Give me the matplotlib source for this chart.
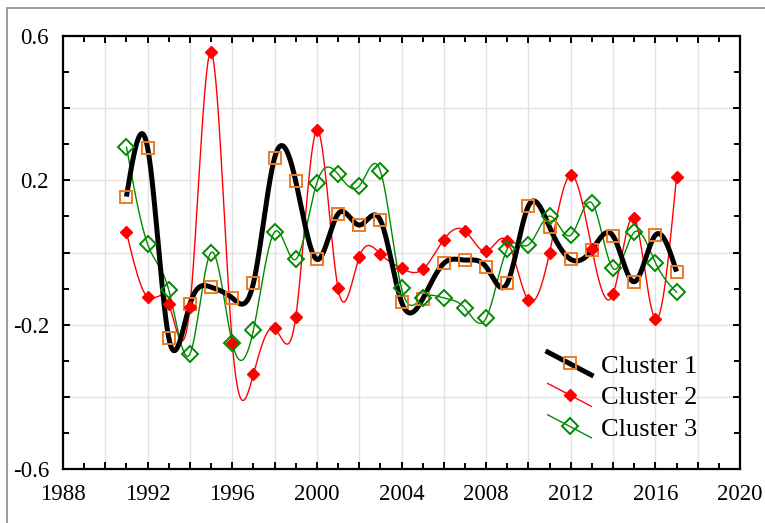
import numpy as np
import matplotlib
matplotlib.use("Agg")
import matplotlib.pyplot as plt
from matplotlib.lines import Line2D
from matplotlib.legend_handler import HandlerLine2D
from matplotlib.patches import Rectangle
from matplotlib.ticker import MultipleLocator, FuncFormatter

plt.rcParams['font.family'] = ['Liberation Serif', 'DejaVu Serif']
plt.rcParams['axes.unicode_minus'] = False

# -------------------------------
# Values
# -------------------------------
years = list(range(1991, 2018))

cluster1 = [0.155, 0.290, -0.237, -0.143, -0.096, -0.126, -0.085, 0.262, 0.198,
            -0.019, 0.107, 0.076, 0.090, -0.137, -0.129, -0.030, -0.021, -0.040,
            -0.085, 0.129, 0.070, -0.019, 0.007, 0.046, -0.081, 0.048, -0.053]

cluster2 = [0.056, -0.124, -0.143, -0.150, 0.555, -0.250, -0.337, -0.210, -0.180,
            0.339, -0.099, -0.013, -0.004, -0.044, -0.047, 0.036, 0.060, 0.003,
            0.031, -0.132, 0.000, 0.215, 0.009, -0.115, 0.095, -0.184, 0.210]

cluster3 = [0.292, 0.023, -0.104, -0.281, 0.000, -0.250, -0.215, 0.057, -0.019,
            0.193, 0.217, 0.184, 0.226, -0.099, -0.126, -0.126, -0.154, -0.182,
            0.010, 0.021, 0.101, 0.048, 0.137, -0.044, 0.056, -0.028, -0.110]

labels = ["Cluster 1", "Cluster 2", "Cluster 3"]

orange = "#ee7b22"
red = "#ff0000"
green = "#008a00"


# natural cubic spline, the lines in the reference pass through the points
def spline(x, y, n=800):
    x = np.asarray(x, float)
    y = np.asarray(y, float)
    h = np.diff(x)
    k = len(x)
    A = np.zeros((k, k))
    b = np.zeros(k)
    A[0, 0] = A[-1, -1] = 1
    for i in range(1, k - 1):
        A[i, i - 1] = h[i - 1]
        A[i, i] = 2 * (h[i - 1] + h[i])
        A[i, i + 1] = h[i]
        b[i] = 6 * ((y[i + 1] - y[i]) / h[i] - (y[i] - y[i - 1]) / h[i - 1])
    M = np.linalg.solve(A, b)
    xs = np.linspace(x[0], x[-1], n)
    idx = np.clip(np.searchsorted(x, xs) - 1, 0, k - 2)
    hi = h[idx]
    a = (x[idx + 1] - xs) / hi
    c = (xs - x[idx]) / hi
    ys = (a * y[idx] + c * y[idx + 1]
          + ((a ** 3 - a) * M[idx] + (c ** 3 - c) * M[idx + 1]) * hi ** 2 / 6)
    return xs, ys


# legend samples are drawn as diagonal strokes with the marker in the middle
class DiagonalHandler(HandlerLine2D):
    def create_artists(self, legend, orig_handle, xdescent, ydescent,
                       width, height, fontsize, trans):
        x0 = -xdescent
        x1 = -xdescent + width
        yc = -ydescent + height / 2
        dy = height * 0.62
        line = Line2D([x0, x1], [yc + dy, yc - dy])
        self.update_prop(line, orig_handle, legend)
        line.set_marker('None')
        mark = Line2D([(x0 + x1) / 2], [yc])
        self.update_prop(mark, orig_handle, legend)
        mark.set_linestyle('None')
        line.set_transform(trans)
        mark.set_transform(trans)
        return [line, mark]


fig = plt.figure(figsize=(7.65, 5.23), dpi=100)
ax = fig.add_axes([63 / 765, 1 - 469 / 523, 677 / 765, 433 / 523])

# grey frame round the figure
fig.patches.append(Rectangle((7 / 765, -0.5), 2, 1.5 - 8 / 523,
                             transform=fig.transFigure, fill=False,
                             edgecolor="#8c8c8c", linewidth=1.2))

xs, ys = spline(years, cluster2)
ax.plot(xs, ys, color=red, lw=1.0, zorder=3)
xs, ys = spline(years, cluster3)
ax.plot(xs, ys, color=green, lw=1.0, zorder=3)
xs, ys = spline(years, cluster1)
ax.plot(xs, ys, color="black", lw=3.6, zorder=4, solid_capstyle='butt')

ax.plot(years, cluster1, ls='none', marker='s', ms=8, mfc='none', mec=orange,
        mew=1.4, zorder=5)
ax.plot(years, cluster2, ls='none', marker='D', ms=6.5, mfc=red, mec=red,
        zorder=5)
ax.plot(years, cluster3, ls='none', marker='D', ms=8.5, mfc='none', mec=green,
        mew=1.4, zorder=5)

ax.set_xlim(1988, 2020)
ax.set_ylim(-0.6, 0.6)

ax.xaxis.set_major_locator(MultipleLocator(2))
ax.xaxis.set_minor_locator(MultipleLocator(1))
ax.yaxis.set_major_locator(MultipleLocator(0.2))
ax.yaxis.set_minor_locator(MultipleLocator(0.1))
ax.xaxis.set_major_formatter(FuncFormatter(
    lambda v, p: f"{v:.0f}" if round(v) % 4 == 0 else ""))
ax.yaxis.set_major_formatter(FuncFormatter(
    lambda v, p: f"{v:.1f}" if abs(round((v + 0.6) / 0.4) - (v + 0.6) / 0.4) < 1e-6 else ""))

ax.grid(True, which='major', color="#e3e3e3", lw=1.0, zorder=0)
ax.set_axisbelow(True)
ax.tick_params(which='both', direction='in', top=True, right=True,
               width=1.4, labelsize=16.5, colors='black')
ax.tick_params(which='major', length=5)
ax.tick_params(which='minor', length=4)
ax.tick_params(axis='x', pad=11)
ax.tick_params(axis='y', pad=10)
for s in ax.spines.values():
    s.set_linewidth(1.6)

handles = [
    Line2D([], [], color='black', lw=3.6, marker='s', ms=8, mfc='none',
           mec=orange, mew=1.4),
    Line2D([], [], color=red, lw=1.0, marker='D', ms=6.5, mfc=red, mec=red),
    Line2D([], [], color=green, lw=1.0, marker='D', ms=8.5, mfc='none',
           mec=green, mew=1.4),
]
ax.legend(handles, labels, handler_map={Line2D: DiagonalHandler()},
          loc='upper left', bbox_to_anchor=(0.716, 0.265), frameon=False,
          fontsize=19, handlelength=1.65, handletextpad=0.38,
          labelspacing=0.3, borderpad=0, borderaxespad=0)

fig.savefig("out.png", dpi=100)
